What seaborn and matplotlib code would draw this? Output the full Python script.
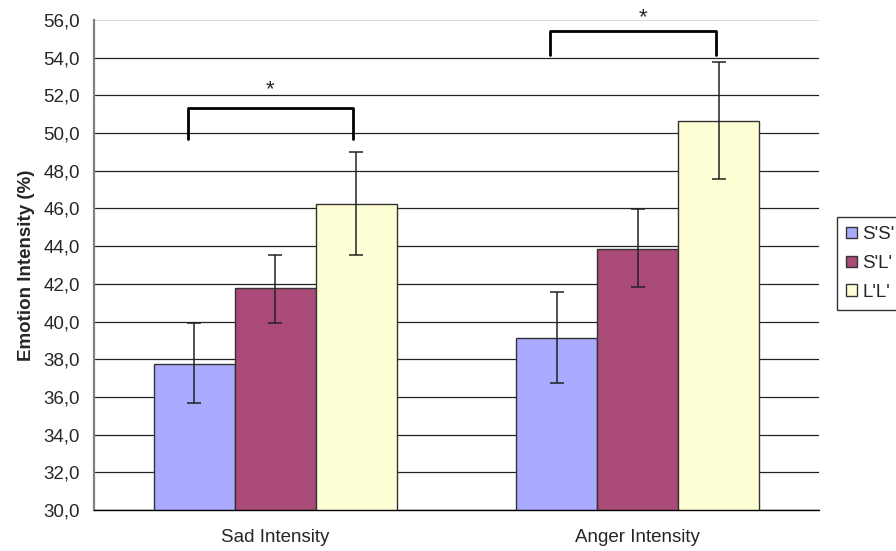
import pandas as pd
import matplotlib.pyplot as plt
import seaborn as sns

# values
emotions = ["Sad Intensity", "Anger Intensity"]
groups = ["S'S'", "S'L'", "L'L'"]
sad_means = [37.75, 41.76, 46.25]
anger_means = [39.11, 43.83, 50.64]
sad_err_low = [35.68, 39.92, 43.51]
sad_err_high = [39.90, 43.51, 48.98]
anger_err_low = [36.72, 41.85, 47.54]
anger_err_high = [41.58, 45.95, 53.78]
colors = ["#AAAAFF", "#A94A78", "#FFFFD5"]
y_ticks = list(range(30, 57, 2))

rows = []
for g_i, g in enumerate(groups):
    rows.append({"Emotion": emotions[0], "Group": g, "Value": sad_means[g_i],
                 "Low": sad_err_low[g_i], "High": sad_err_high[g_i]})
    rows.append({"Emotion": emotions[1], "Group": g, "Value": anger_means[g_i],
                 "Low": anger_err_low[g_i], "High": anger_err_high[g_i]})
df = pd.DataFrame(rows)

sns.set_style("white")
plt.rcParams["font.family"] = ["Liberation Sans", "DejaVu Sans"]
fs = 13.5

fig = plt.figure(figsize=(8.96, 5.51), dpi=100)
ax = fig.add_axes([0.1049, 0.0744, 0.809, 0.8893])

sns.barplot(data=df, x="Emotion", y="Value", hue="Group", order=emotions,
            hue_order=groups, palette=colors, saturation=1, width=0.67, errorbar=None,
            edgecolor="#333333", linewidth=1.0, ax=ax)

# error bars at the bar centres
for g, cont in zip(groups, ax.containers):
    sub = df[df["Group"] == g].set_index("Emotion").loc[emotions]
    xs = [p.get_x() + p.get_width() / 2 for p in cont.patches]
    lower = sub["Value"] - sub["Low"]
    upper = sub["High"] - sub["Value"]
    ax.errorbar(xs, sub["Value"], yerr=[lower, upper], fmt="none",
                ecolor="#222222", elinewidth=1.1, capsize=5, capthick=1.1, zorder=5)

# significance brackets
ax.plot([-0.24, -0.24, 0.216, 0.216], [49.67, 51.33, 51.33, 49.67],
        color="black", lw=2, clip_on=False, zorder=6)
ax.text(-0.015, 52.3, "*", ha="center", va="center", fontsize=16)
ax.plot([0.758, 0.758, 1.215, 1.215], [54.12, 55.39, 55.39, 54.12],
        color="black", lw=2, clip_on=False, zorder=6)
ax.text(1.014, 56.1, "*", ha="center", va="center", fontsize=16, clip_on=False)

ax.set_ylim(30, 56)
ax.set_xlim(-0.5, 1.5)
ax.set_yticks(y_ticks)
ax.set_yticklabels([f"{v:.1f}".replace(".", ",") for v in y_ticks], fontsize=fs)
ax.set_xticks([0, 1])
ax.set_xticklabels(emotions, fontsize=fs)
ax.set_xticks([-0.5, 0.5, 1.5], minor=True)
ax.tick_params(axis="x", which="major", length=0, pad=14)
ax.tick_params(axis="x", which="minor", length=6, width=1, color="#555555", direction="out")
ax.tick_params(axis="y", length=6, width=1, color="#333333", direction="out", pad=4)
ax.set_xlabel("")
ax.set_ylabel("Emotion Intensity (%)", fontsize=fs, fontweight="bold", labelpad=6)

ax.yaxis.grid(True, color="#222222", lw=0.9)
ax.set_axisbelow(True)
ax.get_ygridlines()[-1].set_color("#dddddd")

for side in ["top", "right"]:
    ax.spines[side].set_visible(False)
ax.spines["left"].set_color("#808080")
ax.spines["left"].set_linewidth(1.6)
ax.spines["bottom"].set_color("black")
ax.spines["bottom"].set_linewidth(1.0)

handles, labels = ax.get_legend_handles_labels()
ax.legend_.remove()
leg = fig.legend(handles, labels, loc="upper left", bbox_to_anchor=(837 / 896, 1 - 217 / 551),
                 fontsize=fs, frameon=True, fancybox=False, edgecolor="black",
                 handlelength=0.55, handleheight=0.55, handletextpad=0.3,
                 borderpad=0.5, labelspacing=0.62, borderaxespad=0)
leg.get_frame().set_linewidth(1.0)

plt.savefig("out.png", dpi=100)
plt.close()
